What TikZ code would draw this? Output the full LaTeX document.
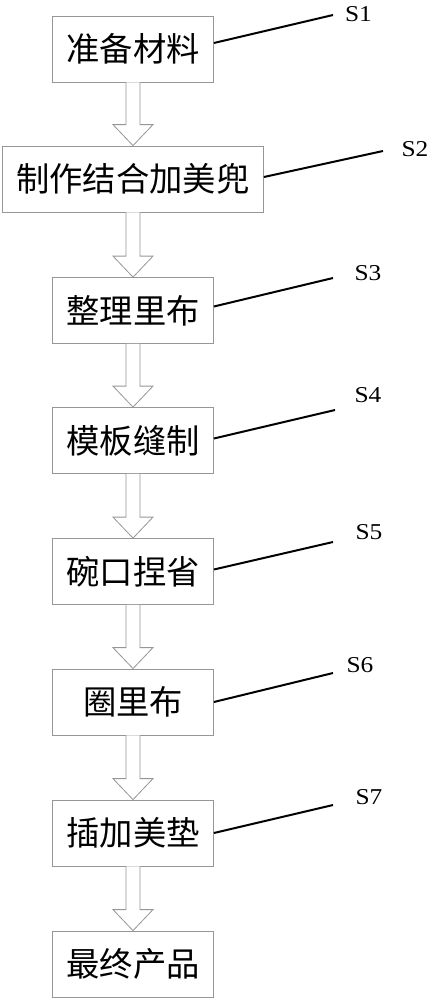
\documentclass[tikz,border=0pt]{standalone}
\usepackage{fontspec}
\setmainfont{Liberation Serif}
\newfontfamily\cjk{Noto Sans CJK SC}
\newfontfamily\labelfont[FakeStretch=1.12]{Liberation Serif}
\usetikzlibrary{calc}

\definecolor{boxgray}{RGB}{150,150,150}

\tikzset{
  stepbox/.style={draw=boxgray, line width=0.6pt, minimum width=120.75pt,
    minimum height=49.5pt, inner sep=0pt, font=\cjk\fontsize{25}{25}\selectfont},
  widebox/.style={stepbox, minimum width=195.75pt},
  flowarrow/.style={draw=boxgray, line width=0.6pt, fill=white, line join=miter},
  leader/.style={line width=1.5pt},
  steplabel/.style={font=\labelfont\fontsize{17}{17}\selectfont, inner sep=0pt}
}

% hollow block arrow from the bottom of #1 to the top of #2
\newcommand{\blockarrow}[2]{
  \draw[flowarrow] ($(#1.south)+(-7,0)$) -- ($(#2.north)+(-7,21)$)
    -- ($(#2.north)+(-20,21)$) -- (#2.north) -- ($(#2.north)+(20,21)$)
    -- ($(#2.north)+(7,21)$) -- ($(#1.south)+(7,0)$);
}

\begin{document}
\begin{tikzpicture}[x=0.75pt, y=0.75pt]
\useasboundingbox (0,0) rectangle (430,-1000);

\node[stepbox] (s1) at (133, -49) {准备材料};
\node[widebox] (s2) at (133, -179) {制作结合加美兜};
\node[stepbox] (s3) at (133, -310.5) {整理里布};
\node[stepbox] (s4) at (133, -440.5) {模板缝制};
\node[stepbox] (s5) at (133, -571.5) {碗口捏省};
\node[stepbox] (s6) at (133, -702) {圈里布};
\node[stepbox] (s7) at (133, -833) {插加美垫};
\node[stepbox] (s8) at (133, -964) {最终产品};

\blockarrow{s1}{s2}
\blockarrow{s2}{s3}
\blockarrow{s3}{s4}
\blockarrow{s4}{s5}
\blockarrow{s5}{s6}
\blockarrow{s6}{s7}
\blockarrow{s7}{s8}

% step numbers
\coordinate (e1) at (333, -15);
\coordinate (e2) at (383, -151);
\coordinate (e3) at (333, -278);
\coordinate (e4) at (335, -410);
\coordinate (e5) at (333, -542);
\coordinate (e6) at (333, -673);
\coordinate (e7) at (333, -805);

\node[steplabel] (l1) at (358.5, -14) {S1};
\node[steplabel] (l2) at (415, -149) {S2};
\node[steplabel] (l3) at (368, -273) {S3};
\node[steplabel] (l4) at (368, -395) {S4};
\node[steplabel] (l5) at (369, -532) {S5};
\node[steplabel] (l6) at (360, -665) {S6};
\node[steplabel] (l7) at (369, -797) {S7};

\draw[leader] ($(s1.east)+(0,6)$) -- (e1);
\draw[leader] ($(s2.east)+(0,2)$) -- (e2);
\draw[leader] ($(s3.east)+(0,4)$) -- (e3);
\draw[leader] ($(s4.east)+(0,2)$) -- (e4);
\draw[leader] ($(s5.east)+(0,2)$) -- (e5);
\draw[leader] (s6.east) -- (e6);
\draw[leader] (s7.east) -- (e7);

\end{tikzpicture}
\end{document}
